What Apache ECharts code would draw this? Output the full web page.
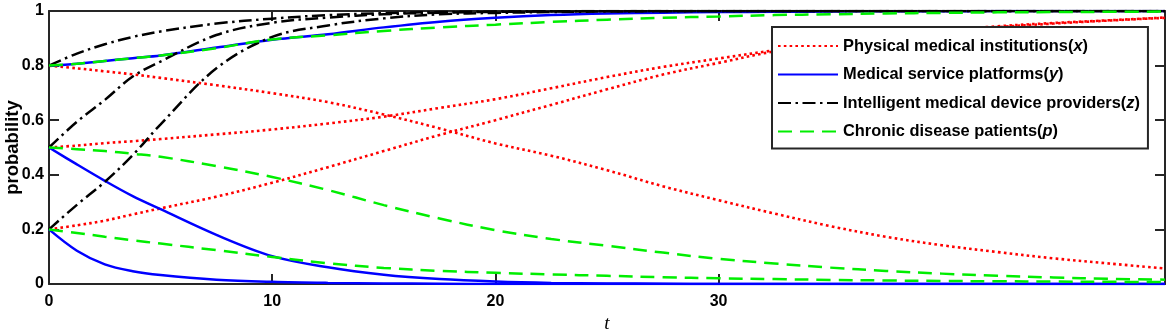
<!DOCTYPE html>
<html><head><meta charset="utf-8">
<script src="https://cdn.jsdelivr.net/npm/echarts@6/dist/echarts.min.js"></script>
<style>html,body{margin:0;padding:0;background:#fff}#c{width:1170px;height:334px}</style>
</head><body><div id="c"></div>
<script>
// time grid (t)
const T = [0, 1.25, 2.5, 3.75, 5, 7.5, 10, 12.5, 15, 17.5, 20, 22.5, 25, 27.5, 30, 32.5, 35, 37.5, 40, 42.5, 45, 47.5, 50];

// Physical medical institutions (x)
const x08 = [0.8, 0.79, 0.779, 0.768, 0.755, 0.728, 0.699, 0.666, 0.621, 0.570, 0.515, 0.470, 0.417, 0.358, 0.307, 0.258, 0.212, 0.173, 0.142, 0.117, 0.094, 0.075, 0.057];
const x05 = [0.5, 0.507, 0.516, 0.523, 0.531, 0.548, 0.566, 0.588, 0.613, 0.645, 0.677, 0.717, 0.758, 0.795, 0.826, 0.856, 0.882, 0.905, 0.928, 0.944, 0.956, 0.966, 0.976];
const x02 = [0.2, 0.215, 0.232, 0.255, 0.277, 0.32, 0.371, 0.428, 0.487, 0.546, 0.600, 0.656, 0.713, 0.767, 0.81, 0.852, 0.879, 0.902, 0.924, 0.941, 0.954, 0.965, 0.975];

// Medical service platforms (y)
const y08 = [0.8, 0.807, 0.817, 0.827, 0.837, 0.866, 0.895, 0.915, 0.94, 0.961, 0.975, 0.985, 0.991, 0.994, 0.996, 0.997, 0.998, 0.999, 0.999, 1, 1, 1, 1];
const y05 = [0.5, 0.438, 0.378, 0.322, 0.274, 0.18, 0.102, 0.061, 0.034, 0.018, 0.009, 0.004, 0.002, 0.001, 0, 0, 0, 0, 0, 0, 0, 0, 0];
const y02 = [0.2, 0.122, 0.072, 0.047, 0.033, 0.016, 0.008, 0.004, 0.002, 0.001, 0, 0, 0, 0, 0, 0, 0, 0, 0, 0, 0, 0, 0];

// Intelligent medical device providers (z)
const z08 = [0.8, 0.844, 0.878, 0.905, 0.925, 0.954, 0.972, 0.985, 0.992, 0.996, 0.998, 0.999, 1, 1, 1, 1, 1, 1, 1, 1, 1, 1, 1];
const z05 = [0.5, 0.594, 0.674, 0.76, 0.815, 0.912, 0.957, 0.976, 0.988, 0.994, 0.997, 0.998, 0.999, 1, 1, 1, 1, 1, 1, 1, 1, 1, 1];
const z02 = [0.2, 0.29, 0.374, 0.472, 0.585, 0.79, 0.905, 0.947, 0.973, 0.988, 0.993, 0.996, 0.998, 0.999, 1, 1, 1, 1, 1, 1, 1, 1, 1];

// Chronic disease patients (p)
const p08 = [0.8, 0.807, 0.817, 0.827, 0.837, 0.864, 0.896, 0.911, 0.927, 0.94, 0.95, 0.96, 0.968, 0.975, 0.98, 0.985, 0.988, 0.991, 0.993, 0.995, 0.996, 0.997, 0.998];
const p05 = [0.5, 0.494, 0.487, 0.477, 0.466, 0.432, 0.392, 0.344, 0.289, 0.24, 0.197, 0.165, 0.14, 0.115, 0.092, 0.075, 0.06, 0.048, 0.038, 0.03, 0.024, 0.019, 0.016];
const p02 = [0.2, 0.187, 0.173, 0.16, 0.148, 0.124, 0.099, 0.076, 0.059, 0.048, 0.041, 0.035, 0.03, 0.025, 0.021, 0.018, 0.015, 0.013, 0.011, 0.01, 0.009, 0.008, 0.007];

// labels
const legendNames = ['Physical medical institutions', 'Medical service platforms', 'Intelligent medical device providers', 'Chronic disease patients'];
const legendVars = ['x', 'y', 'z', 'p'];
const xTicks = [0, 10, 20, 30];

const groups = [[x08, x05, x02], [y08, y05, y02], [z08, z05, z02], [p08, p05, p02]];
const lineStyles = [
  {color: '#ff0000', width: 2.6, type: [2.6, 3.2], cap: 'butt'},
  {color: '#0000ff', width: 2.5, type: 'solid'},
  {color: '#000000', width: 2.5, type: [13, 4.5, 2.5, 4.5], cap: 'butt'},
  {color: '#00ee00', width: 2.5, type: [14, 8], cap: 'butt'}
];
const fullNames = legendNames.map((n, i) => n + '(' + legendVars[i] + ')');

const series = [];
groups.forEach((g, gi) => {
  g.forEach(arr => {
    series.push({
      type: 'line', name: fullNames[gi],
      data: T.map((t, k) => [t, arr[k]]),
      showSymbol: false, symbol: 'none', smooth: 0.35,
      lineStyle: lineStyles[gi], itemStyle: {color: lineStyles[gi].color},
      emphasis: {disabled: true}, animation: false
    });
  });
});

const frame = {color: '#262626', width: 2};
const tickFont = {fontFamily: 'Liberation Sans', fontWeight: 'bold', fontSize: 16, color: '#000'};

const chart = echarts.init(document.getElementById('c'));
chart.setOption({
  animation: false,
  backgroundColor: '#fff',
  grid: {left: 49, right: 5, top: 11, bottom: 50, containLabel: false, outerBoundsMode: 'none'},
  legend: {
    data: fullNames,
    orient: 'vertical', left: 772, top: 27,
    itemWidth: 60, itemHeight: 14, itemGap: 12.5,
    padding: [11, 8, 9, 5],
    borderColor: '#262626', borderWidth: 2, backgroundColor: '#fff',
    itemStyle: {opacity: 0},
    formatter: name => {
      const i = fullNames.indexOf(name);
      return legendNames[i] + '({v|' + legendVars[i] + '})';
    },
    textStyle: Object.assign({}, tickFont, {fontSize: 16.4, rich: {v: {fontFamily: 'Liberation Sans', fontWeight: 'bold', fontStyle: 'italic', fontSize: 16.4, color: '#000'}}})
  },
  xAxis: [{
    type: 'value', min: 0, max: 50, position: 'bottom',
    axisLine: {show: true, onZero: false, lineStyle: frame},
    axisTick: {show: true, inside: true, length: 10, customValues: xTicks, lineStyle: frame},
    axisLabel: Object.assign({customValues: xTicks, margin: 10}, tickFont),
    splitLine: {show: false},
    name: 't', nameLocation: 'middle', nameGap: 28,
    nameTextStyle: {fontFamily: 'Liberation Serif', fontStyle: 'italic', fontSize: 19, color: '#000'}
  }, {
    type: 'value', min: 0, max: 50, position: 'top',
    axisLine: {show: true, onZero: false, lineStyle: frame},
    axisTick: {show: true, inside: true, length: 10, customValues: xTicks, lineStyle: frame},
    axisLabel: {show: false}, splitLine: {show: false}
  }],
  yAxis: [{
    type: 'value', min: 0, max: 1, interval: 0.2, position: 'left',
    axisLine: {show: true, onZero: false, lineStyle: frame},
    axisTick: {show: true, inside: true, length: 10, lineStyle: frame},
    axisLabel: Object.assign({margin: 5, formatter: v => (v === 0 || v === 1) ? String(v) : v.toFixed(1)}, tickFont),
    splitLine: {show: false},
    name: 'probability', nameLocation: 'middle', nameGap: 27, nameMoveOverlap: false,
    nameTextStyle: {fontFamily: 'Liberation Sans', fontWeight: 'bold', fontSize: 18.5, color: '#000'}
  }, {
    type: 'value', min: 0, max: 1, interval: 0.2, position: 'right',
    axisLine: {show: true, onZero: false, lineStyle: frame},
    axisTick: {show: true, inside: true, length: 10, lineStyle: frame},
    axisLabel: {show: false}, splitLine: {show: false}
  }],
  series: series
});
</script></body></html>
